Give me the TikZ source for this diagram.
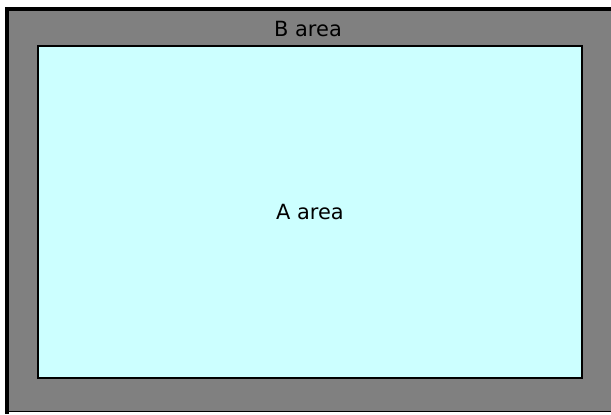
\documentclass[tikz,border=0pt]{standalone}
\usepackage{fontspec}
\setmainfont{DejaVu Sans}
\definecolor{cyanfill}{HTML}{CCFFFF}
\definecolor{dither}{HTML}{808080}
\tikzset{
  outerarea/.style={fill=dither, draw=none},
  innerarea/.style={fill=cyanfill, draw=black, line width=2bp},
  edge/.style={fill=black, draw=none},
  lbl/.style={font=\fontsize{21}{24}\selectfont, text=black, inner sep=0pt}
}
\begin{document}
\begin{tikzpicture}[x=1bp,y=-1bp]
\useasboundingbox (0,0) rectangle (611,414);
% outer B area
\fill[outerarea] (9,11) rectangle (611,412);
\fill[edge] (5,7) rectangle (611,11);
\fill[edge] (5,7) rectangle (9,414);
\draw[black, line width=1bp] (9,411.5) -- (611,411.5);
% inner A area
\node[innerarea, minimum width=544bp, minimum height=332bp, inner sep=0pt, anchor=north west] (A) at (37,45) {};
\node[lbl] (Blabel) at (308,29) {B area};
\node[lbl] (Alabel) at (A.center) {A area};
\end{tikzpicture}
\end{document}
